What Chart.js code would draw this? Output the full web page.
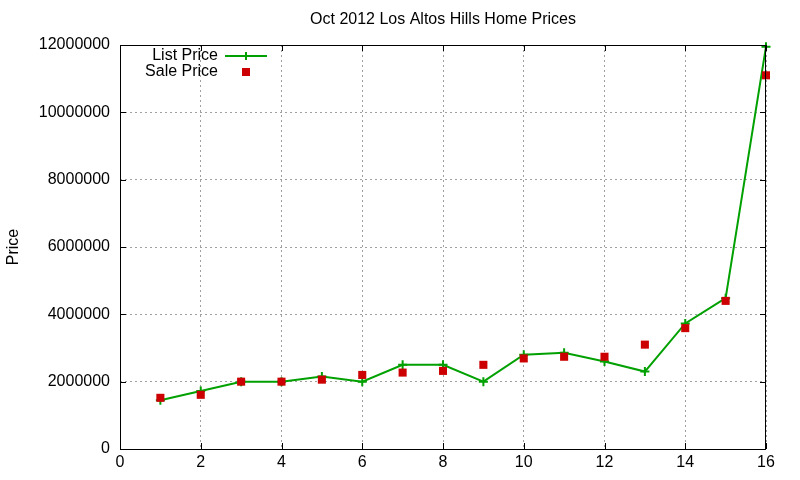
<!DOCTYPE html>
<html><head><meta charset="utf-8">
<script src="https://cdn.jsdelivr.net/npm/chart.js@4/dist/chart.umd.min.js"></script>
<style>html,body{margin:0;padding:0;background:#fff}#w{width:800px;height:480px}</style>
</head><body><div id="w"><canvas id="c"></canvas></div>
<script>
const houseIndex = [1,2,3,4,5,6,7,8,9,10,11,12,13,14,15,16];
const listPrice = [1450000,1720000,2000000,2000000,2150000,2000000,2500000,2500000,2000000,2800000,2860000,2600000,2300000,3730000,4480000,11950000];
const salePrice = [1520000,1610000,2000000,2000000,2060000,2200000,2270000,2320000,2500000,2690000,2740000,2740000,3100000,3590000,4400000,11100000];
const xTicks = [0,2,4,6,8,10,12,14,16];
const yTicks = [0,2000000,4000000,6000000,8000000,10000000,12000000];
const titleText = 'Oct 2012 Los Altos Hills Home Prices';
const yTitle = 'Price';
const seriesNames = ['List Price','Sale Price'];

const GREEN = '#00a000', RED = '#cc0000';
const FONT = "'Liberation Sans', Arial, sans-serif";

const frame = {
  id:'frame',
  afterDraw(chart){
    const {ctx, chartArea:a, scales:{x,y}} = chart;
    ctx.save();
    ctx.strokeStyle='#000'; ctx.lineWidth=1;
    ctx.strokeRect(a.left+0.5, a.top+0.5, a.right-a.left-1, a.bottom-a.top);
    ctx.beginPath();
    xTicks.forEach(v=>{const p=Math.round(x.getPixelForValue(v))+0.5;
      ctx.moveTo(p,a.bottom); ctx.lineTo(p,a.bottom-6);
      ctx.moveTo(p,a.top); ctx.lineTo(p,a.top+6);});
    yTicks.forEach(v=>{const p=Math.round(y.getPixelForValue(v))+0.5;
      ctx.moveTo(a.left,p); ctx.lineTo(a.left+6,p);
      ctx.moveTo(a.right,p); ctx.lineTo(a.right-6,p);});
    ctx.stroke();
    // title centered over plot area
    ctx.font = '16px '+FONT; ctx.fillStyle='#000'; ctx.textAlign='center'; ctx.textBaseline='middle';
    ctx.fillText(titleText, (a.left+a.right)/2, 20);
    // legend
    ctx.textAlign='right';
    const tx=218, ly1=56, ly2=72;
    ctx.fillText(seriesNames[0], tx, ly1);
    ctx.fillText(seriesNames[1], tx, ly2);
    ctx.strokeStyle=GREEN; ctx.lineWidth=2;
    ctx.beginPath(); ctx.moveTo(225,ly1); ctx.lineTo(267,ly1);
    ctx.moveTo(246,ly1-4); ctx.lineTo(246,ly1+4); ctx.stroke();
    ctx.fillStyle=RED; ctx.fillRect(242,ly2-4,8,8);
    ctx.restore();
  }
};

new Chart(document.getElementById('c'), {
  type:'line',
  data:{
    datasets:[
      {label:seriesNames[0], data:houseIndex.map((v,i)=>({x:v,y:listPrice[i]})),
       borderColor:GREEN, backgroundColor:GREEN, borderWidth:2, pointStyle:'cross',
       pointRadius:4.5, pointBorderWidth:2, pointBorderColor:GREEN, tension:0, order:2, clip:false},
      {label:seriesNames[1], data:houseIndex.map((v,i)=>({x:v,y:salePrice[i]})),
       showLine:false, pointStyle:'rect', pointRadius:5.7, backgroundColor:RED,
       borderColor:RED, pointBorderWidth:0, order:1, clip:false}
    ]
  },
  options:{
    responsive:true, maintainAspectRatio:false, animation:false,
    layout:{padding:{top:45,right:34,left:0,bottom:0}},
    plugins:{
      legend:{display:false}, tooltip:{enabled:false}, title:{display:false}
    },
    scales:{
      x:{type:'linear', min:0, max:16,
        afterBuildTicks:s=>{s.ticks=xTicks.map(v=>({value:v}));},
        afterFit:s=>{s.height=31;},
        grid:{color:'#a0a0a0', lineWidth:1, drawTicks:false},
        border:{display:false, dash:[2,3]},
        ticks:{color:'#000', font:{family:FONT,size:16}, padding:4, maxRotation:0}
      },
      y:{type:'linear', min:0, max:12000000,
        afterBuildTicks:s=>{s.ticks=yTicks.map(v=>({value:v}));},
        afterFit:s=>{s.width=120;},
        grid:{color:'#a0a0a0', lineWidth:1, drawTicks:false},
        border:{display:false, dash:[2,3]},
        title:{display:true, text:yTitle, color:'#000', font:{family:FONT,size:16}, padding:{top:4,bottom:0}},
        ticks:{color:'#000', font:{family:FONT,size:16}, padding:10, callback:v=>String(v)}
      }
    }
  },
  plugins:[frame]
});
</script></body></html>
